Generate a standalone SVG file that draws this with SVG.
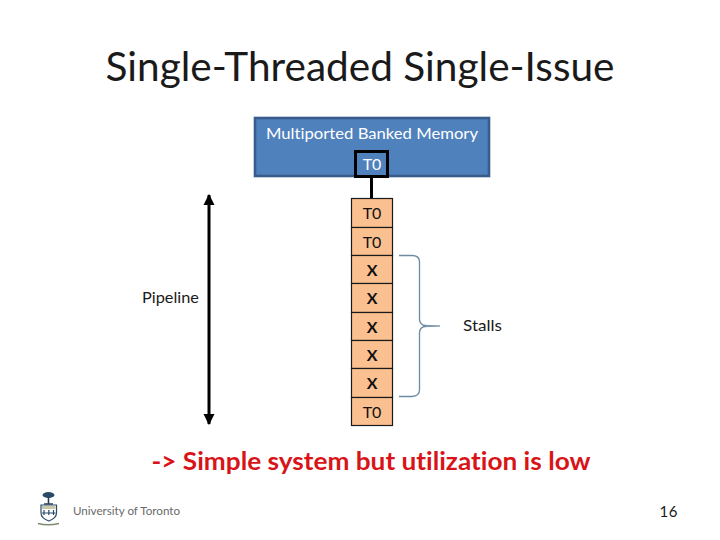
<svg xmlns="http://www.w3.org/2000/svg" width="720" height="540" viewBox="0 0 720 540">
<defs>
<marker id="ah" viewBox="0 0 10 10" refX="9" refY="5" markerUnits="userSpaceOnUse" markerWidth="11" markerHeight="13" orient="auto-start-reverse"><path d="M0 0L10 5L0 10Z" fill="#000"/></marker>
</defs>
<style>
text{font-family:Lato,"Liberation Sans",sans-serif;font-variant-ligatures:none}
.c{text-anchor:middle}
.cell{fill:#fac090;stroke:#1a1a1a;stroke-width:1.2}
.cl{font-size:16px;fill:#111;text-anchor:middle}
.x{font-size:16px;font-weight:700;fill:#111;text-anchor:middle}
.brace{fill:none;stroke:#6d8ba3;stroke-width:1.3}
</style>
<rect width="720" height="540" fill="#fff"/>
<text id="title" x="360" y="81" class="c" font-size="40" fill="#1a1a1a" textLength="509" lengthAdjust="spacingAndGlyphs">Single-Threaded Single-Issue</text>
<g id="memory">
<rect x="255" y="118" width="234" height="58" fill="#4f81bd" stroke="#385d8a" stroke-width="2.6"/>
<text x="372" y="139" class="c" font-size="16" fill="#fff" textLength="212" lengthAdjust="spacingAndGlyphs">Multiported Banked Memory</text>
</g>
<g id="memory-t0">
<rect x="355.500" y="151.500" width="32" height="25" fill="#4f81bd" stroke="#000" stroke-width="3"/>
<text x="372" y="170" class="c" font-size="16" fill="#fff">T0</text>
</g>
<g id="connectors">
<line x1="371.500" y1="177" x2="371.500" y2="198" stroke="#000" stroke-width="3"/>
<line x1="209" y1="195" x2="209" y2="424" stroke="#000" stroke-width="3" marker-start="url(#ah)" marker-end="url(#ah)"/>
<path class="brace" d="M399 255.500H412Q419.500 255.500 419.500 262V319Q419.500 325 426 326Q419.500 327 419.500 333V390Q419.500 396 412 396.500H399"/>
<path d="M424 325.200L440 326L424 326.800Z" fill="#6d8ba3" stroke="#6d8ba3" stroke-width="0.8"/>
</g>
<g id="stage-1"><rect class="cell" x="351.500" y="198.500" width="41" height="29"/><text class="cl" x="372" y="219">T0</text></g>
<g id="stage-2"><rect class="cell" x="351.500" y="227.500" width="41" height="28"/><text class="cl" x="372" y="248">T0</text></g>
<g id="stage-3"><rect class="cell" x="351.500" y="255.500" width="41" height="28"/><text class="x" x="372" y="276">X</text></g>
<g id="stage-4"><rect class="cell" x="351.500" y="283.500" width="41" height="29"/><text class="x" x="372" y="304">X</text></g>
<g id="stage-5"><rect class="cell" x="351.500" y="312.500" width="41" height="28"/><text class="x" x="372" y="333">X</text></g>
<g id="stage-6"><rect class="cell" x="351.500" y="340.500" width="41" height="28"/><text class="x" x="372" y="361">X</text></g>
<g id="stage-7"><rect class="cell" x="351.500" y="368.500" width="41" height="29"/><text class="x" x="372" y="389">X</text></g>
<g id="stage-8"><rect class="cell" x="351.500" y="397.500" width="41" height="28"/><text class="cl" x="372" y="418">T0</text></g>
<text id="pipeline" x="170.500" y="303" class="c" font-size="16" fill="#1a1a1a" textLength="57" lengthAdjust="spacingAndGlyphs">Pipeline</text>
<text id="stalls" x="482.500" y="331" class="c" font-size="16" fill="#1a1a1a" textLength="39" lengthAdjust="spacingAndGlyphs">Stalls</text>
<text id="conclusion" x="371" y="470" class="c" font-size="24" font-weight="700" fill="#d91418" textLength="439" lengthAdjust="spacingAndGlyphs">-&gt; Simple system but utilization is low</text>
<g id="logo">
<ellipse cx="48.500" cy="495" rx="6" ry="3" fill="#2a4a6a"/>
<path d="M48.500 497V504M44 504H53" fill="none" stroke="#2a3f55" stroke-width="1.6"/>
<path d="M41 505H56.500V513Q56.500 518 48.800 521Q41 518 41 513Z" fill="#fff" stroke="#2a4a6a" stroke-width="1.2"/>
<rect x="42" y="506" width="13.500" height="3" fill="#c9c9a8"/>
<path d="M44 510V515M48.800 510V515M53.500 510V515M42 513H55.500" stroke="#2a4a6a" stroke-width="1.200" fill="none"/>
<path d="M38 523.500Q48 526 59 523.500" fill="none" stroke="#7d8c70" stroke-width="1.600"/>
</g>
<text id="university" x="126.500" y="515" class="c" font-size="11" fill="#6a6a6a" textLength="107" lengthAdjust="spacingAndGlyphs">University of Toronto</text>
<text id="page" x="668.500" y="517" class="c" font-size="15" fill="#1a1a1a" textLength="18" lengthAdjust="spacing">16</text>
</svg>
